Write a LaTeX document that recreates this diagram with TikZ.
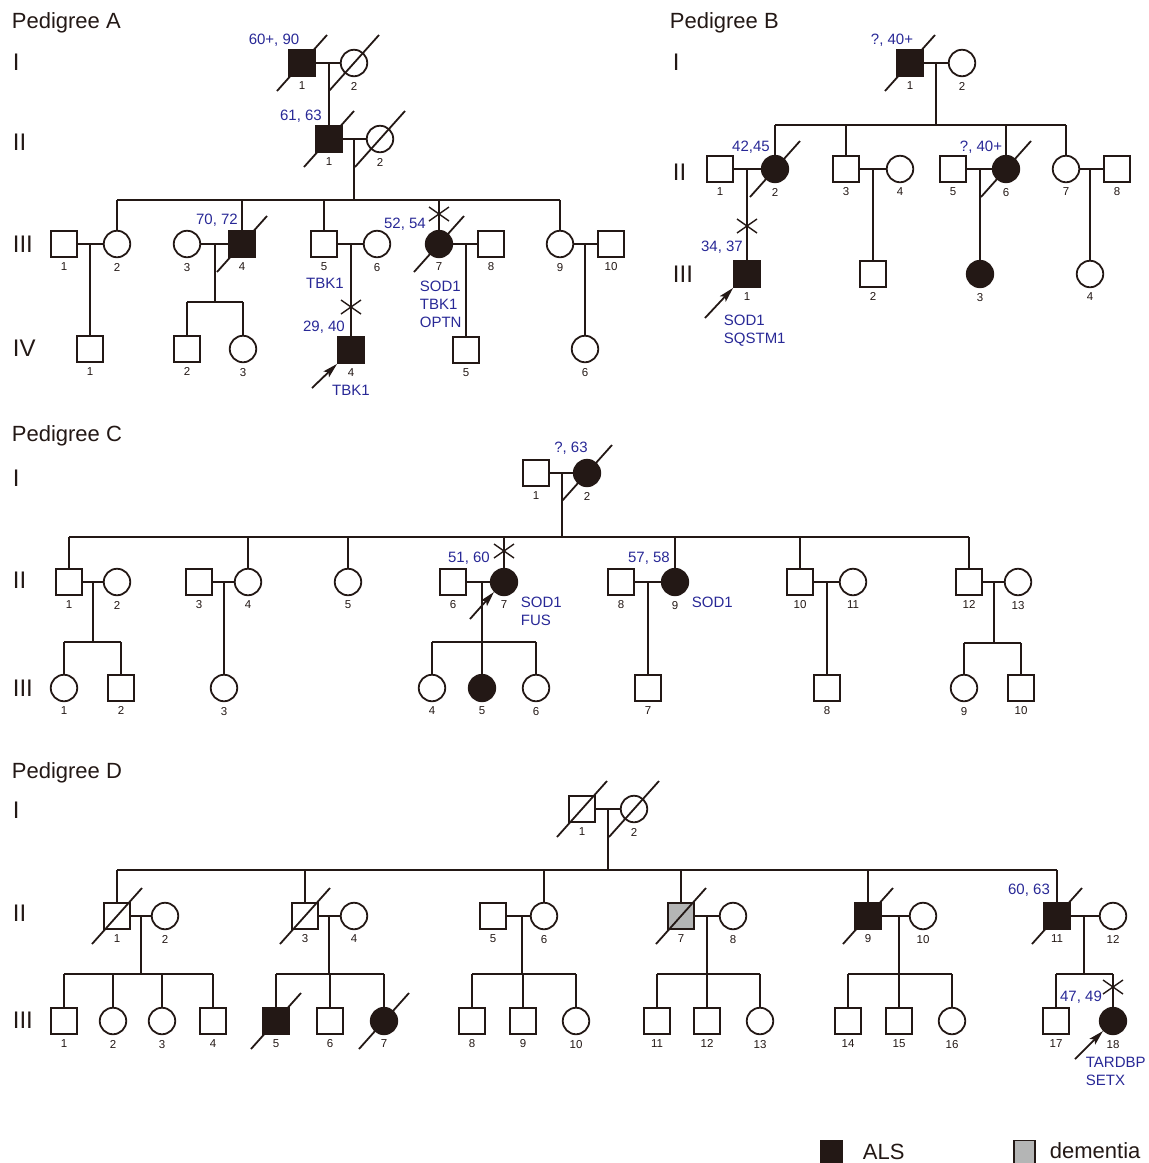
\documentclass[tikz,border=0pt]{standalone}
\usepackage{fontspec}
\setmainfont{Liberation Sans}
\usetikzlibrary{arrows.meta,positioning}

\definecolor{inkcol}{RGB}{35,24,21}
\definecolor{alsfill}{RGB}{35,24,21}
\definecolor{demfill}{RGB}{180,181,181}
\definecolor{agecol}{RGB}{40,40,150}

% slash through a deceased person
\newcommand{\deceased}[1]{\draw (#1.center) ++(-25,28) -- ++(50,-56);}
% cross on a line of descent
\newcommand{\sibcross}[1]{\draw[line width=1.4pt] (#1) ++(-10,-7) -- ++(20,14) ++(0,-14) -- ++(-20,14);}

\begin{document}
\begin{tikzpicture}[
    x = 1pt, y = -1pt, % pixel grid of the figure, y runs down
    > = {Stealth[length=15pt,width=8pt,inset=3pt]}, % proband arrow
    line width = 1.8pt,
    color = inkcol,
    label distance = 4pt
    ]

    \tikzset{
    male/.style = {draw, rectangle, minimum size=26pt, inner sep=0pt},
    female/.style = {draw, circle, minimum size=26.5pt, inner sep=0pt},
    als/.style = {fill=alsfill},
    dem/.style = {fill=demfill},
    idnum/.style = {inner sep=0pt, font=\fontsize{11.5}{11.5}\selectfont},
    idn/.style = {label={[idnum]below:#1}},
    agelab/.style = {inner sep=0pt, text=agecol, font=\fontsize{15}{18}\selectfont},
    genelab/.style = {agelab, anchor=north west, align=left},
    gen/.style = {anchor=west, inner sep=0pt, font=\fontsize{24}{24}\selectfont},
    ttl/.style = {anchor=west, inner sep=0pt, font=\fontsize{22}{22}\selectfont},
    legbox/.style = {draw, rectangle, minimum width=21pt, minimum height=27pt, inner sep=0pt},
    legtxt/.style = {anchor=west, inner sep=0pt, font=\fontsize{22}{22}\selectfont}
    }

    \useasboundingbox (0,0) rectangle (1149,1163);

    % ---------- Pedigree A ----------
    \node[ttl] (titleA) at (11,23) {Pedigree A};
    \node[gen] (A-gI) at (12,62) {I};
    \node[gen] (A-gII) at (12,142) {II};
    \node[gen] (A-gIII) at (12,244) {III};
    \node[gen] (A-gIV) at (12,348) {IV};

    \node[male, als, idn=1] (A-I1) at (302,63) {};
    \node[female, idn=2] (A-I2) at (354,63) {};
    \node[male, als, idn=1] (A-II1) at (329,139) {};
    \node[female, idn=2] (A-II2) at (380,139) {};

    \node[male, idn=1] (A-III1) at (64,244) {};
    \node[female, idn=2] (A-III2) at (117,244) {};
    \node[female, idn=3] (A-III3) at (187,244) {};
    \node[male, als, idn=4] (A-III4) at (242,244) {};
    \node[male, idn=5] (A-III5) at (324,244) {};
    \node[female, idn=6] (A-III6) at (377,244) {};
    \node[female, als, idn=7] (A-III7) at (439,244) {};
    \node[male, idn=8] (A-III8) at (491,244) {};
    \node[female, idn=9] (A-III9) at (560,244) {};
    \node[male, idn=10] (A-III10) at (611,244) {};

    \node[male, idn=1] (A-IV1) at (90,349) {};
    \node[male, idn=2] (A-IV2) at (187,349) {};
    \node[female, idn=3] (A-IV3) at (243,349) {};
    \node[male, als, idn=4] (A-IV4) at (351,350) {};
    \node[male, idn=5] (A-IV5) at (466,350) {};
    \node[female, idn=6] (A-IV6) at (585,349) {};

    \coordinate (mA1) at (329,63);
    \coordinate (mA2) at (354,139);
    \coordinate (sA2) at (354,200);
    \coordinate (mA31) at (90,244);
    \coordinate (mA34) at (215,244);
    \coordinate (sA34) at (215,302);
    \coordinate (mA35) at (351,244);
    \coordinate (mA37) at (466,244);
    \coordinate (mA39) at (585,244);

    \draw (A-I1) -- (A-I2);
    \draw (mA1) -- (A-II1);
    \draw (A-II1) -- (A-II2);
    \draw (mA2) -- (sA2);
    \draw (A-III2.north |- sA2) -- (A-III9.north |- sA2);
    \foreach \k in {A-III2,A-III4,A-III5,A-III7,A-III9}
        \draw (\k.north |- sA2) -- (\k);
    \draw (A-III1) -- (A-III2);
    \draw (mA31) -- (A-IV1);
    \draw (A-III3) -- (A-III4);
    \draw (mA34) -- (sA34);
    \draw (A-IV2.north |- sA34) -- (A-IV3.north |- sA34);
    \foreach \k in {A-IV2,A-IV3}
        \draw (\k.north |- sA34) -- (\k);
    \draw (A-III5) -- (A-III6);
    \draw (mA35) -- (A-IV4);
    \draw (A-III7) -- (A-III8);
    \draw (mA37) -- (A-IV5);
    \draw (A-III9) -- (A-III10);
    \draw (mA39) -- (A-IV6);

    \foreach \k in {A-I1,A-I2,A-II1,A-II2,A-III4,A-III7} \deceased{\k}
    \coordinate (xA5) at (351,307); \sibcross{xA5}
    \coordinate (xA7) at (439,214); \sibcross{xA7}

    \node[agelab] (ageA1) at (274,40) {60+, 90};
    \node[agelab] (ageA2) at (301,116) {61, 63};
    \node[agelab] (ageA3) at (217,220) {70, 72};
    \node[agelab] (ageA4) at (405,224) {52, 54};
    \node[agelab] (ageA5) at (324,327) {29, 40};
    \node[agelab] (geneA5) at (325,283) {TBK1};
    \node[agelab] (geneA4) at (351,390) {TBK1};
    \node[genelab] (geneA7) at (419,280.5) {SOD1\\TBK1\\OPTN};
    \coordinate (prA) at (312,388);
    \draw[->] (prA) -- (A-IV4.south west);

    % ---------- Pedigree B ----------
    \node[ttl] (titleB) at (669,23) {Pedigree B};
    \node[gen] (B-gI) at (672,62) {I};
    \node[gen] (B-gII) at (672,172) {II};
    \node[gen] (B-gIII) at (672,274) {III};

    \node[male, als, idn=1] (B-I1) at (910,63) {};
    \node[female, idn=2] (B-I2) at (962,63) {};

    \node[male, idn=1] (B-II1) at (720,169) {};
    \node[female, als, idn=2] (B-II2) at (775,169) {};
    \node[male, idn=3] (B-II3) at (846,169) {};
    \node[female, idn=4] (B-II4) at (900,169) {};
    \node[male, idn=5] (B-II5) at (953,169) {};
    \node[female, als, idn=6] (B-II6) at (1006,169) {};
    \node[female, idn=7] (B-II7) at (1066,169) {};
    \node[male, idn=8] (B-II8) at (1117,169) {};

    \node[male, als, idn=1] (B-III1) at (747,274) {};
    \node[male, idn=2] (B-III2) at (873,274) {};
    \node[female, als, idn=3] (B-III3) at (980,274) {};
    \node[female, idn=4] (B-III4) at (1090,274) {};

    \coordinate (mB1) at (936,63);
    \coordinate (sB1) at (936,125);
    \coordinate (mB12) at (747,169);
    \coordinate (mB34) at (873,169);
    \coordinate (mB56) at (980,169);
    \coordinate (mB78) at (1090,169);

    \draw (B-I1) -- (B-I2);
    \draw (mB1) -- (sB1);
    \draw (B-II2.north |- sB1) -- (B-II7.north |- sB1);
    \foreach \k in {B-II2,B-II3,B-II6,B-II7}
        \draw (\k.north |- sB1) -- (\k);
    \draw (B-II1) -- (B-II2);
    \draw (mB12) -- (B-III1);
    \draw (B-II3) -- (B-II4);
    \draw (mB34) -- (B-III2);
    \draw (B-II5) -- (B-II6);
    \draw (mB56) -- (B-III3);
    \draw (B-II7) -- (B-II8);
    \draw (mB78) -- (B-III4);

    \foreach \k in {B-I1,B-II2,B-II6} \deceased{\k}
    \coordinate (xB1) at (747,226); \sibcross{xB1}

    \node[agelab] (ageB1) at (892,40) {?, 40+};
    \node[agelab] (ageB2) at (751,147) {42,45};
    \node[agelab] (ageB3) at (981,147) {?, 40+};
    \node[agelab] (ageB4) at (722,247) {34, 37};
    \node[genelab] (geneB1) at (723,314.5) {SOD1\\SQSTM1};
    \coordinate (prB) at (705,318);
    \draw[->] (prB) -- (B-III1.south west);

    % ---------- Pedigree C ----------
    \node[ttl] (titleC) at (11,436) {Pedigree C};
    \node[gen] (C-gI) at (12,478) {I};
    \node[gen] (C-gII) at (12,580) {II};
    \node[gen] (C-gIII) at (12,688) {III};

    \node[male, idn=1] (C-I1) at (536,473) {};
    \node[female, als, idn=2] (C-I2) at (587,473) {};

    \node[male, idn=1] (C-II1) at (69,582) {};
    \node[female, idn=2] (C-II2) at (117,582) {};
    \node[male, idn=3] (C-II3) at (199,582) {};
    \node[female, idn=4] (C-II4) at (248,582) {};
    \node[female, idn=5] (C-II5) at (348,582) {};
    \node[male, idn=6] (C-II6) at (453,582) {};
    \node[female, als, idn=7] (C-II7) at (504,582) {};
    \node[male, idn=8] (C-II8) at (621,582) {};
    \node[female, als, idn=9] (C-II9) at (675,582) {};
    \node[male, idn=10] (C-II10) at (800,582) {};
    \node[female, idn=11] (C-II11) at (853,582) {};
    \node[male, idn=12] (C-II12) at (969,582) {};
    \node[female, idn=13] (C-II13) at (1018,582) {};

    \node[female, idn=1] (C-III1) at (64,688) {};
    \node[male, idn=2] (C-III2) at (121,688) {};
    \node[female, idn=3] (C-III3) at (224,688) {};
    \node[female, idn=4] (C-III4) at (432,688) {};
    \node[female, als, idn=5] (C-III5) at (482,688) {};
    \node[female, idn=6] (C-III6) at (536,688) {};
    \node[male, idn=7] (C-III7) at (648,688) {};
    \node[male, idn=8] (C-III8) at (827,688) {};
    \node[female, idn=9] (C-III9) at (964,688) {};
    \node[male, idn=10] (C-III10) at (1021,688) {};

    \coordinate (mC1) at (562,473);
    \coordinate (sC1) at (562,537);
    \coordinate (mC12) at (93,582);
    \coordinate (sC12) at (93,642);
    \coordinate (mC34) at (224,582);
    \coordinate (mC67) at (482,582);
    \coordinate (sC67) at (482,642);
    \coordinate (mC89) at (648,582);
    \coordinate (mC1011) at (827,582);
    \coordinate (mC1213) at (994,582);
    \coordinate (sC1213) at (994,643);

    \draw (C-I1) -- (C-I2);
    \draw (mC1) -- (sC1);
    \draw (C-II1.north |- sC1) -- (C-II12.north |- sC1);
    \foreach \k in {C-II1,C-II4,C-II5,C-II7,C-II9,C-II10,C-II12}
        \draw (\k.north |- sC1) -- (\k);
    \draw (C-II1) -- (C-II2);
    \draw (mC12) -- (sC12);
    \draw (C-III1.north |- sC12) -- (C-III2.north |- sC12);
    \foreach \k in {C-III1,C-III2}
        \draw (\k.north |- sC12) -- (\k);
    \draw (C-II3) -- (C-II4);
    \draw (mC34) -- (C-III3);
    \draw (C-II6) -- (C-II7);
    \draw (mC67) -- (sC67);
    \draw (C-III4.north |- sC67) -- (C-III6.north |- sC67);
    \foreach \k in {C-III4,C-III5,C-III6}
        \draw (\k.north |- sC67) -- (\k);
    \draw (C-II8) -- (C-II9);
    \draw (mC89) -- (C-III7);
    \draw (C-II10) -- (C-II11);
    \draw (mC1011) -- (C-III8);
    \draw (C-II12) -- (C-II13);
    \draw (mC1213) -- (sC1213);
    \draw (C-III9.north |- sC1213) -- (C-III10.north |- sC1213);
    \foreach \k in {C-III9,C-III10}
        \draw (\k.north |- sC1213) -- (\k);

    \deceased{C-I2}
    \coordinate (xC7) at (504,551); \sibcross{xC7}

    \node[agelab] (ageC1) at (571,448) {?, 63};
    \node[agelab] (ageC2) at (469,558) {51, 60};
    \node[agelab] (ageC3) at (649,558) {57, 58};
    \node[genelab] (geneC7) at (520,596.5) {SOD1\\FUS};
    \node[genelab] (geneC9) at (691,596.5) {SOD1};
    \coordinate (prC) at (470,619);
    \draw[->] (prC) -- (C-II7.225);

    % ---------- Pedigree D ----------
    \node[ttl] (titleD) at (11,773) {Pedigree D};
    \node[gen] (D-gI) at (12,810) {I};
    \node[gen] (D-gII) at (12,913) {II};
    \node[gen] (D-gIII) at (12,1020) {III};

    \node[male, idn=1] (D-I1) at (582,809) {};
    \node[female, idn=2] (D-I2) at (634,809) {};

    \node[male, idn=1] (D-II1) at (117,916) {};
    \node[female, idn=2] (D-II2) at (165,916) {};
    \node[male, idn=3] (D-II3) at (305,916) {};
    \node[female, idn=4] (D-II4) at (354,916) {};
    \node[male, idn=5] (D-II5) at (493,916) {};
    \node[female, idn=6] (D-II6) at (544,916) {};
    \node[male, dem, idn=7] (D-II7) at (681,916) {};
    \node[female, idn=8] (D-II8) at (733,916) {};
    \node[male, als, idn=9] (D-II9) at (868,916) {};
    \node[female, idn=10] (D-II10) at (923,916) {};
    \node[male, als, idn=11] (D-II11) at (1057,916) {};
    \node[female, idn=12] (D-II12) at (1113,916) {};

    \node[male, idn=1] (D-III1) at (64,1021) {};
    \node[female, idn=2] (D-III2) at (113,1021) {};
    \node[female, idn=3] (D-III3) at (162,1021) {};
    \node[male, idn=4] (D-III4) at (213,1021) {};
    \node[male, als, idn=5] (D-III5) at (276,1021) {};
    \node[male, idn=6] (D-III6) at (330,1021) {};
    \node[female, als, idn=7] (D-III7) at (384,1021) {};
    \node[male, idn=8] (D-III8) at (472,1021) {};
    \node[male, idn=9] (D-III9) at (523,1021) {};
    \node[female, idn=10] (D-III10) at (576,1021) {};
    \node[male, idn=11] (D-III11) at (657,1021) {};
    \node[male, idn=12] (D-III12) at (707,1021) {};
    \node[female, idn=13] (D-III13) at (760,1021) {};
    \node[male, idn=14] (D-III14) at (848,1021) {};
    \node[male, idn=15] (D-III15) at (899,1021) {};
    \node[female, idn=16] (D-III16) at (952,1021) {};
    \node[male, idn=17] (D-III17) at (1056,1021) {};
    \node[female, als, idn=18] (D-III18) at (1113,1021) {};

    \coordinate (mD1) at (608,809);
    \coordinate (sD1) at (608,870);
    \coordinate (mD12) at (141,916);
    \coordinate (sD12) at (141,974);
    \coordinate (mD34) at (329,916);
    \coordinate (sD34) at (329,974);
    \coordinate (mD56) at (522,916);
    \coordinate (sD56) at (522,974);
    \coordinate (mD78) at (707,916);
    \coordinate (sD78) at (707,974);
    \coordinate (mD910) at (899,916);
    \coordinate (sD910) at (899,974);
    \coordinate (mD1112) at (1084,916);
    \coordinate (sD1112) at (1084,974);

    \draw (D-I1) -- (D-I2);
    \draw (mD1) -- (sD1);
    \draw (D-II1.north |- sD1) -- (D-II11.north |- sD1);
    \foreach \k in {D-II1,D-II3,D-II6,D-II7,D-II9,D-II11}
        \draw (\k.north |- sD1) -- (\k);
    \draw (D-II1) -- (D-II2);
    \draw (mD12) -- (sD12);
    \draw (D-III1.north |- sD12) -- (D-III4.north |- sD12);
    \foreach \k in {D-III1,D-III2,D-III3,D-III4}
        \draw (\k.north |- sD12) -- (\k);
    \draw (D-II3) -- (D-II4);
    \draw (mD34) -- (sD34);
    \draw (D-III5.north |- sD34) -- (D-III7.north |- sD34);
    \foreach \k in {D-III5,D-III6,D-III7}
        \draw (\k.north |- sD34) -- (\k);
    \draw (D-II5) -- (D-II6);
    \draw (mD56) -- (sD56);
    \draw (D-III8.north |- sD56) -- (D-III10.north |- sD56);
    \foreach \k in {D-III8,D-III9,D-III10}
        \draw (\k.north |- sD56) -- (\k);
    \draw (D-II7) -- (D-II8);
    \draw (mD78) -- (sD78);
    \draw (D-III11.north |- sD78) -- (D-III13.north |- sD78);
    \foreach \k in {D-III11,D-III12,D-III13}
        \draw (\k.north |- sD78) -- (\k);
    \draw (D-II9) -- (D-II10);
    \draw (mD910) -- (sD910);
    \draw (D-III14.north |- sD910) -- (D-III16.north |- sD910);
    \foreach \k in {D-III14,D-III15,D-III16}
        \draw (\k.north |- sD910) -- (\k);
    \draw (D-II11) -- (D-II12);
    \draw (mD1112) -- (sD1112);
    \draw (D-III17.north |- sD1112) -- (D-III18.north |- sD1112);
    \foreach \k in {D-III17,D-III18}
        \draw (\k.north |- sD1112) -- (\k);

    \foreach \k in {D-I1,D-I2,D-II1,D-II3,D-II7,D-II9,D-II11,D-III5,D-III7} \deceased{\k}
    \coordinate (xD18) at (1113,987); \sibcross{xD18}

    \node[agelab] (ageD1) at (1029,890) {60, 63};
    \node[agelab] (ageD2) at (1081,997) {47, 49};
    \node[genelab] (geneD18) at (1085,1056.5) {TARDBP\\SETX};
    \coordinate (prD) at (1075,1059);
    \draw[->] (prD) -- (D-III18.225);

    % ---------- legend ----------
    \node[legbox, als] (legALS) at (831.5,1154) {};
    \node[legtxt] (legALStxt) at (862,1152) {ALS};
    \node[legbox, dem] (legDEM) at (1024.5,1154) {};
    \node[legtxt] (legDEMtxt) at (1049,1151) {dementia};
\end{tikzpicture}
\end{document}
